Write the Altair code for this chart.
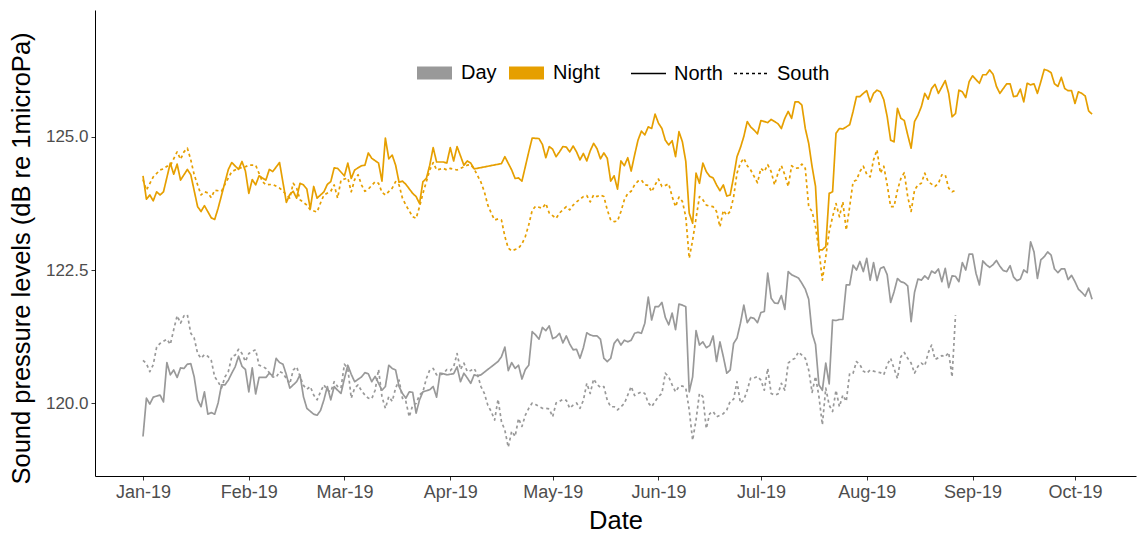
import altair as alt
import pandas as pd

FONT = "Liberation Sans"
START = pd.Timestamp("2019-01-01")

# Daily mean sound pressure level (dB re 1 µPa), one value per day from 1 Jan 2019.
# None marks a day without a recording.
night_north = [
    124.27, 123.83, 123.91, 123.80, 123.97, 123.91, 123.97, None, 124.51, 124.30,
    124.49, 124.19, None, 124.39, 124.29, None, 123.69, 123.60, 123.71, None,
    123.48, 123.45, 123.66, None, None, 124.39, 124.52, None, 124.39, 124.54,
    124.36, 123.94, 124.20, 124.10, 124.27, None, 124.19, 124.39, 124.35, None,
    124.52, None, 123.77, 123.92, 123.98, 123.85, 124.13, 124.10, 124.02, 123.65,
    124.07, 123.85, None, 123.97, 124.11, 124.16, 124.42, 124.41, None, 124.27,
    124.51, 124.22, 124.38, None, 124.46, 124.47, 124.70, 124.60, None, 124.51,
    124.17, 124.98, 124.59, 124.66, 124.47, 124.15, 124.17, 124.11, None, 123.94,
    123.88, 123.75, 124.16, 124.22, 124.47, 124.80, 124.53, None, 124.53, 124.51,
    124.80, 124.55, 124.82, None, 124.47, 124.55, 124.51, 124.40, None, None,
    None, None, None, None, None, 124.50, 124.63, None, 124.38, 124.22,
    124.23, 124.17, None, 124.72, 124.98, None, 124.97, 124.86, 124.61, 124.82,
    124.77, 124.63, 124.72, 124.82, 124.81, 124.72, 124.83, 124.72, 124.57, 124.69,
    124.55, 124.74, 124.88, 124.78, 124.59, 124.70, 124.60, 124.17, 124.27, 124.02,
    124.55, 124.46, 124.61, 124.36, 124.66, 124.94, 125.11, 125.04, 125.19, 125.16,
    125.43, 125.26, 125.16, 124.94, 124.85, 124.93, 124.63, 125.10, 124.91, 124.54,
    123.57, 123.38, 124.32, 124.13, 124.51, 124.35, 124.26, 124.23, 124.10, 123.99,
    124.10, 123.89, 123.91, 124.25, 124.63, 124.80, 125.01, 125.29, 125.19, 125.13,
    125.06, 125.31, None, 125.27, 125.33, None, 125.25, 125.16, 125.35, 125.48,
    125.35, 125.66, 125.66, 125.60, 125.16, 124.88, 124.44, 124.07, 122.88, 122.88,
    122.94, 123.94, 123.97, 125.07, 125.16, 125.15, 125.19, 125.23, 125.48, 125.76,
    125.76, 125.82, 125.87, 125.66, 125.82, 125.88, 125.85, 125.70, 125.38, 124.94,
    124.91, 125.54, 125.35, 125.31, 125.04, 124.79, 125.29, 125.41, 125.57, 125.82,
    125.71, 125.91, 125.99, 125.82, 125.94, 126.06, 125.82, 125.38, 125.44, 125.88,
    125.85, 125.74, 126.04, 126.15, 126.08, 126.01, 126.17, 126.17, 126.26, 126.18,
    125.95, 125.82, 125.91, 126.00, 126.00, 125.76, 125.77, 125.90, 125.66, 126.01,
    125.98, 126.00, 125.82, 126.04, 126.27, 126.25, 126.21, 126.00, 125.95, 126.12,
    125.91, 125.87, 125.87, 125.63, 125.85, 125.82, 125.77, 125.49, 125.43,
]

night_south = [
    124.20, 124.00, None, 124.25, None, 124.38, 124.40, 124.45, 124.46, None,
    124.72, 124.58, 124.72, 124.79, 124.57, 124.29, 124.10, 123.91, 123.97, 123.95,
    123.86, 124.00, None, 123.98, 124.11, None, 124.35, None, 124.41, None,
    124.44, 124.47, None, 124.47, None, 124.16, 124.10, None, 124.11, None,
    124.04, 123.98, None, 123.85, 124.13, 124.04, 123.82, None, 123.72, 123.63,
    None, 123.59, 123.76, 123.91, None, 123.98, 124.10, 123.85, 124.19, None,
    124.23, 123.97, 124.20, 124.29, 124.10, 123.98, 124.02, None, 124.16, 124.13,
    123.96, 123.91, None, 124.04, 124.16, 124.10, 123.85, 123.72, None, 123.50,
    123.47, 123.69, 123.94, 124.16, 124.38, 124.52, 124.38, None, 124.41, 124.38,
    124.41, None, 124.38, 124.41, None, 124.47, 124.48, 124.40, None, 124.15,
    123.97, 123.72, 123.57, 123.44, 123.46, 123.44, 123.13, 122.91, 122.86, None,
    122.91, 122.99, 123.13, 123.35, 123.62, 123.70, 123.68, 123.66, 123.75, 123.57,
    None, 123.47, 123.57, 123.63, 123.69, 123.63, 123.72, 123.78, None, 123.88,
    123.90, 123.78, 123.91, 123.88, 123.91, 123.88, 123.63, 123.44, 123.41, 123.42,
    123.60, 123.82, 123.94, 123.98, 124.10, 124.17, 124.19, 124.10, 124.09, 123.97,
    124.10, 124.21, 124.07, 124.09, 124.12, 123.88, 123.69, 123.87, 123.79, 123.50,
    122.72, 123.06, 123.47, 123.88, 123.82, 123.72, 123.70, 123.69, 123.60, 123.31,
    123.62, 123.53, 123.60, 123.87, 124.32, 124.51, 124.60, 124.46, 124.38, None,
    124.14, 124.41, 124.35, 124.48, 124.35, 124.10, 124.32, 124.46, 124.29, 124.07,
    124.46, 124.41, 124.42, 124.49, 124.41, 123.69, 123.60, 123.31, 122.88, 122.31,
    122.75, 123.22, 123.50, 123.75, 123.50, 123.78, 123.25, 123.69, 124.16, 124.19,
    124.35, 124.45, 124.30, 124.25, 124.57, 124.76, 124.32, 124.45, 124.10, 123.69,
    123.69, 124.00, 124.22, 124.33, 123.88, 123.60, 124.00, 124.10, 124.13, 124.32,
    124.16, None, 124.07, 124.13, 124.29, 124.29, 124.04, 123.97, 124.00,
]

day_north = [
    119.37, 120.09, 119.98, 120.11, 120.13, 120.15, 120.02, 120.76, 120.53, 120.62,
    120.48, 120.66, 120.65, 120.73, 120.74, 120.49, 120.06, 119.93, 120.21, 119.79,
    119.82, 119.79, 120.00, 120.34, 120.34, 120.43, 120.56, 120.68, 120.88, 120.69,
    120.63, 120.21, 120.66, 120.17, 120.48, None, 120.48, 120.56, 120.51, 120.84,
    120.76, 120.73, 120.53, 120.28, 120.34, 120.40, 120.53, 120.12, 119.90, None,
    119.79, 119.77, 119.86, 120.06, 120.31, 120.06, 120.31, 120.24, 120.18, 120.46,
    120.71, 120.54, 120.40, None, 120.49, 120.57, 120.55, 120.40, 120.50, 120.37,
    120.24, 120.31, 120.71, 120.65, 120.62, 120.31, 120.18, 120.09, 120.21, 120.20,
    119.81, 120.06, 120.21, 120.23, 120.25, 120.31, 120.11, 120.56, 120.55, 120.53,
    None, 120.55, 120.68, 120.40, 120.56, 120.47, 120.37, 120.53, 120.51, 120.53,
    None, None, None, None, 120.78, 120.87, 121.05, 120.61, 120.76, 120.65,
    120.71, 120.45, 120.63, 120.71, 121.34, 121.28, 121.20, 121.42, 121.36, 121.45,
    121.21, 121.24, 121.31, 121.13, 121.26, 121.11, 121.00, 121.01, 120.84, 121.04,
    121.32, 121.28, 121.26, 121.26, 121.20, 120.84, 120.78, 120.84, 121.12, 121.20,
    121.09, 121.18, 121.15, 121.18, 121.31, 121.33, 121.31, 121.50, 121.99, 121.56,
    121.81, 121.81, 121.89, 121.61, 121.47, 121.69, 121.38, 121.86, 121.84, 121.81,
    120.21, 120.49, 121.36, 121.09, 121.15, 121.04, 121.08, 121.26, 120.78, 121.15,
    120.87, 120.56, 120.62, 121.12, 121.22, 121.50, 121.84, 121.51, 121.61, 121.59,
    121.51, 121.70, 121.72, 122.44, 121.97, 121.88, 121.87, 122.02, 121.76, 122.47,
    122.41, 122.38, 122.35, 122.25, 122.14, 121.95, 121.31, 121.10, 120.34, 120.24,
    120.75, 120.36, 121.56, 121.55, 121.57, 121.57, 122.22, 122.22, 122.59, 122.50,
    122.66, 122.47, 122.72, 122.31, 122.64, 122.30, 122.53, 122.56, 122.41, 121.89,
    122.09, 122.34, 122.28, 122.26, 122.20, 121.53, 122.08, 122.33, 122.31, 122.39,
    122.33, 122.48, 122.44, 122.52, 122.28, 122.53, 122.17, 122.39, 122.38, 122.28,
    122.64, 122.50, 122.80, 122.80, 122.44, 122.22, 122.67, 122.60, 122.55, 122.60,
    122.68, 122.57, 122.49, 122.47, 122.58, 122.37, 122.30, 122.33, 122.50, 122.45,
    123.03, 122.84, 122.34, 122.69, 122.75, 122.84, 122.78, 122.52, 122.45, 122.52,
    122.52, 122.32, 122.40, 122.28, 122.14, 122.08, 122.01, 122.16, 121.95,
]

day_south = [
    120.80, 120.74, 120.59, 120.72, 121.05, 121.12, None, 121.20, 121.10, 121.38,
    121.64, 121.50, 121.64, 121.66, 121.31, 121.22, 120.93, 120.84, 120.91, 120.88,
    120.80, 120.49, 120.40, 120.28, 120.49, 120.59, 120.87, 120.90, 121.01, 120.93,
    120.78, 120.93, 120.97, 121.00, 120.71, 120.69, 120.65, None, 120.49, 120.48,
    120.59, 120.56, None, 120.36, 120.62, 120.68, 120.50, 120.33, 120.26, 120.31,
    120.15, 120.06, 120.21, 120.34, 120.24, 120.21, 120.40, 120.31, 120.28, 120.73,
    120.65, 120.09, 120.28, 120.34, 120.23, 120.15, 120.09, 120.08, 120.24, 120.63,
    120.12, 119.90, 120.12, 120.03, 120.28, 120.43, 120.09, 120.03, 119.74, 119.96,
    119.99, 120.15, 120.21, 120.46, 120.62, 120.65, 120.53, 120.53, 120.55, 120.63,
    120.61, 120.68, 120.93, 120.63, 120.75, 120.59, 120.61, 120.65, 120.53, 120.31,
    120.18, 119.96, 119.84, 119.68, 120.07, 119.65, 119.49, 119.17, 119.47, 119.37,
    119.71, 119.56, 119.77, 119.90, 120.00, 119.97, None, 119.90, 119.90, 119.89,
    119.74, 120.00, 120.03, 120.07, 120.05, 119.90, 119.96, 120.00, 119.90, 120.05,
    120.37, 120.18, 120.45, 120.35, 120.29, 120.31, 120.05, 119.93, 119.93, 119.87,
    119.93, 119.99, 120.15, 120.31, 120.14, 120.18, 120.21, 120.18, 120.00, 119.93,
    120.03, 120.12, 120.18, 120.56, 120.49, 120.34, 120.21, 120.31, 120.32, 120.28,
    119.87, 119.30, 119.68, 120.18, 120.12, 119.52, 119.80, 119.84, 119.74, 119.77,
    119.80, 119.87, 120.03, 120.07, 120.40, 120.00, 120.06, 120.24, 120.47, 120.47,
    120.50, 120.43, 120.24, 120.65, 120.18, 120.15, 120.17, 120.37, 120.24, 120.75,
    120.81, 120.84, 120.96, 120.90, 120.84, 120.62, 120.20, 120.50, 120.12, 119.59,
    120.28, 119.96, 119.84, 120.24, 119.93, 120.15, 120.03, 120.56, 120.56, 120.78,
    120.72, 120.60, 120.56, 120.62, 120.60, 120.58, 120.57, 120.53, 120.72, 120.84,
    120.65, 120.46, 120.87, 120.95, 120.84, 120.75, 120.56, 120.69, 120.75, 120.70,
    120.94, 121.09, 120.82, 120.85, 120.89, 120.87, 120.95, 120.49, 121.65,
]

periods = ["Day", "Night"]
sites = ["North", "South"]
period_colors = ["#999999", "#E69F00"]
site_dashes = [[1, 0], [3, 3]]
y_ticks = [120.0, 122.5, 125.0]

series = [
    ("Day", "North", day_north),
    ("Day", "South", day_south),
    ("Night", "North", night_north),
    ("Night", "South", night_south),
]

rows = []
for period, site, values in series:
    for i, v in enumerate(values):
        if v is None:
            continue
        rows.append({
            "date": (START + pd.Timedelta(days=i)).strftime("%Y-%m-%dT%H:%M:%S"),
            "spl": v,
            "period": period,
            "site": site,
        })
df = pd.DataFrame(rows)

month_ticks = [alt.DateTime(year=2019, month=m, date=1) for m in range(1, 11)]
x_domain = [
    alt.DateTime(year=2018, month=12, date=17, hours=22, minutes=34),
    alt.DateTime(year=2019, month=10, date=18, hours=21),
]

legend_common = dict(
    title=None, orient="none", direction="horizontal", columns=2, padding=0,
    gridAlign="none", symbolType="stroke", symbolSize=1225,
    labelFontSize=20, labelFont=FONT, labelColor="black",
)

chart = (
    alt.Chart(df)
    .mark_line(strokeWidth=1.7, strokeJoin="round")
    .encode(
        x=alt.X(
            "date:T",
            scale=alt.Scale(domain=x_domain, nice=False),
            axis=alt.Axis(values=month_ticks, format="%b-%y", title="Date",
                          titlePadding=7, labelFontSize=18),
        ),
        y=alt.Y(
            "spl:Q",
            scale=alt.Scale(domain=[118.628, 127.387], nice=False, zero=False),
            axis=alt.Axis(values=y_ticks, format=".1f",
                          title="Sound pressure levels (dB re 1microPa)",
                          titlePadding=11, titleY=248, labelFontSize=17),
        ),
        color=alt.Color(
            "period:N",
            scale=alt.Scale(domain=periods, range=period_colors),
            legend=alt.Legend(
                legendX=315.5, legendY=39, symbolStrokeWidth=13,
                labelOffset=2.5, columnPadding=-15, **legend_common,
            ),
        ),
        strokeDash=alt.StrokeDash(
            "site:N",
            scale=alt.Scale(domain=sites, range=site_dashes),
            legend=alt.Legend(
                legendX=535, legendY=45, symbolStrokeWidth=1.7,
                symbolStrokeColor="black", labelOffset=7, columnPadding=7,
                **legend_common,
            ),
        ),
    )
    .properties(
        width=1041,
        height=466,
        padding={"left": 95, "top": 10, "right": 1, "bottom": 57},
        autosize=alt.AutoSizeParams(type="none"),
    )
    .configure_view(stroke=None)
    .configure_axis(
        grid=False,
        domainColor="black",
        domainWidth=1,
        tickColor="#333333",
        tickSize=4,
        labelColor="#4D4D4D",
        labelFont=FONT,
        labelPadding=3,
        titleFont=FONT,
        titleFontSize=25.5,
        titleFontWeight="normal",
        titleColor="black",
    )
)

chart.save("out.html", embed_options={"renderer": "svg", "actions": False})
